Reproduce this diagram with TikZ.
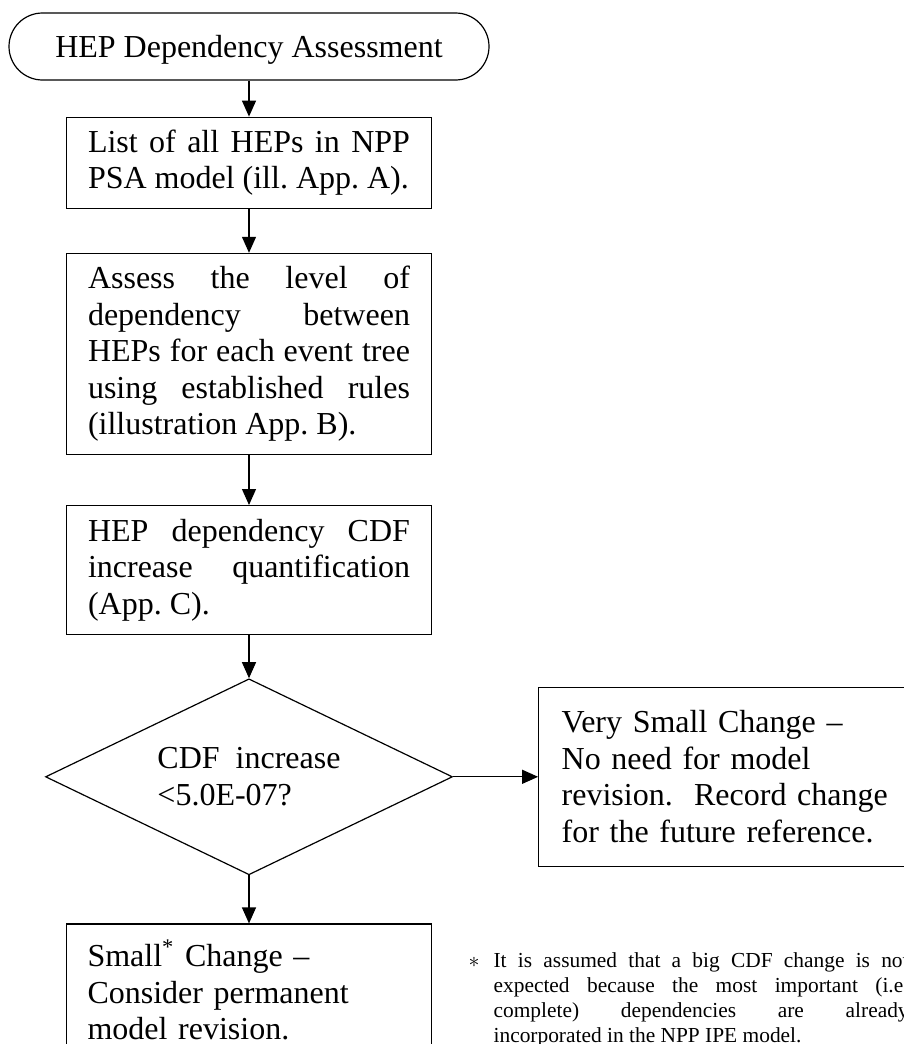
\documentclass[tikz,border=0pt]{standalone}
\usepackage{fontspec}
\setmainfont{Liberation Serif}
\usetikzlibrary{shapes, arrows.meta}
\usetikzlibrary{positioning}

\begin{document}
\frenchspacing
\hyphenpenalty=10000
\exhyphenpenalty=10000
\tolerance=9999
\begin{tikzpicture}[x=0.5pt, y=0.5pt, line width=0.6pt,
  font=\fontsize{16pt}{18.3pt}\selectfont,
  >={Triangle[length=8pt, width=7pt]},
  box/.style={draw, rectangle, text width=161pt, inner xsep=10.75pt, inner ysep=3pt, align=justify},
  openbox/.style={draw, rectangle, inner ysep=3pt, align=left}]
\clip (0,0) rectangle (904,-1044);
\fill[white] (0,0) rectangle (904,-1044);
\node[draw, rectangle, rounded corners=16.75pt, minimum width=240pt, minimum height=33.5pt, text depth=0pt] (HEP) at (249,-46.5) {HEP Dependency Assessment};
\node[box, minimum height=45.5pt] (LIST) [below=18pt of HEP] {List of all HEPs in NPP PSA model (ill. App. A).};
\node[box, minimum height=100.5pt] (ASSESS) [below=22pt of LIST] {Assess the level of dependency between HEPs for each event tree using established rules (illustration App. B).};
\node[box, minimum height=64.5pt] (QUANT) [below=25pt of ASSESS] {HEP dependency CDF increase quantification (App. C).};
\node[draw, diamond, aspect=2, minimum width=203.5pt, minimum height=98pt, align=left, inner sep=1pt] (CDF) [below=21.5pt of QUANT] {CDF\ \ increase\\<5.0E-07?};
\node[openbox, text width=170pt, inner xsep=11.5pt, minimum height=89.5pt] (VSC) [right=42.5pt of CDF] {Very Small Change --\\No need for model\\revision.\ \ Record change\\for the future reference.};
\node[openbox, text width=161.5pt, inner xsep=10.5pt, minimum height=66pt] (SC) [below=24pt of CDF] {Small\textsuperscript{*} Change --\\Consider permanent\\model revision.};
\node[anchor=north west, inner sep=0pt, text width=207.5pt, align=justify, font=\fontsize{10.7pt}{12.5pt}\selectfont] (NOTE) at (493,-952) {\llap{$\ast$\hspace{7pt}}It is assumed that a big CDF change is not\linebreak expected because the most important (i.e.\linebreak complete) dependencies are already\linebreak incorporated in the NPP IPE model.};
\draw[->] (HEP) -- (LIST);
\draw[->] (LIST) -- (ASSESS);
\draw[->] (ASSESS) -- (QUANT);
\draw[->] (QUANT) -- (CDF);
\draw[->] (CDF.east) -- (CDF.east -| VSC.west);
\draw[->] (CDF.south) -- (CDF.south |- SC.north);
\end{tikzpicture}
\end{document}
